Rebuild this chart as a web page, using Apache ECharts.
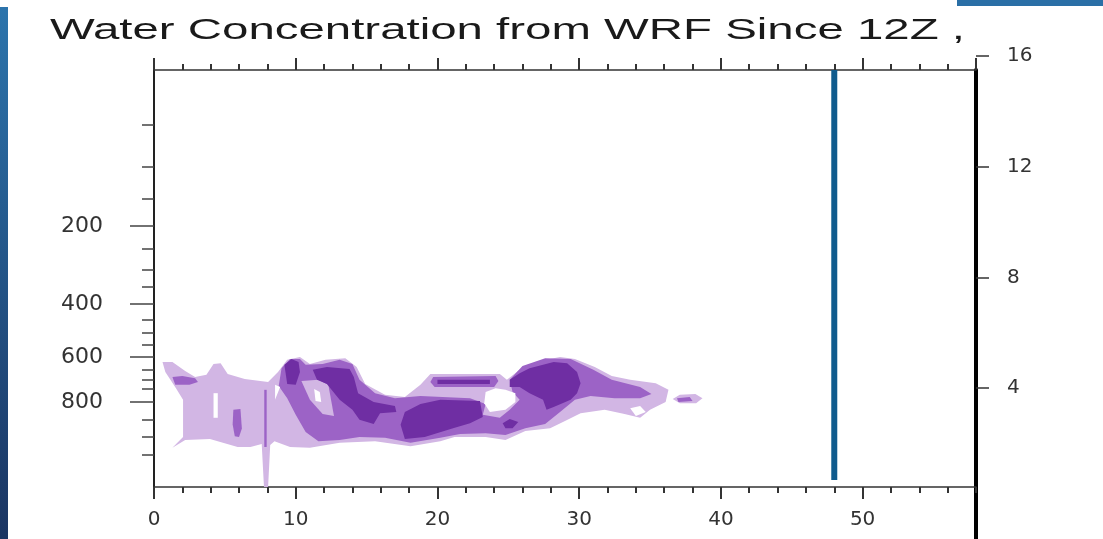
<!DOCTYPE html>
<html>
<head>
<meta charset="utf-8">
<script src="https://cdn.jsdelivr.net/npm/echarts@6/dist/echarts.min.js"></script>
<style>
  html, body { margin: 0; padding: 0; background: #fff; }
  #chart { width: 1103px; height: 539px; }
</style>
</head>
<body>
<div id="chart"></div>
<script>
// x: time axis units, y: model level (0 = bottom of plot, 100 = top)
const pressureLabels = [200, 400, 600, 800];
const pressureLevels = [62.6, 43.9, 31.2, 20.4];
const pressureTickLevels = [86.8, 76.7, 69.1, 62.6, 57.1, 52.0, 48.0, 43.9, 40.0, 36.9, 34.1,
  31.2, 28.1, 25.7, 23.5, 20.4, 16.1, 12.0, 7.7];
const heightTicks = [4, 8, 12, 16];

// filled contour areas, polygons of [x, level]
const level1Areas = [
  [[0.6, 30.0], [1.3, 30.0], [2.2, 27.8], [2.9, 26.4], [3.7, 26.9], [4.2, 29.5], [4.7, 29.7], [5.2, 27.1],
   [6.4, 25.9], [8.05, 25.2], [8.75, 27.6], [9.4, 30.5], [10.3, 31.2], [11.0, 29.5], [12.1, 30.5],
   [13.5, 30.9], [14.3, 28.8], [14.9, 24.7], [16.3, 22.1], [17.7, 21.6], [18.8, 24.5], [19.5, 27.1],
   [24.4, 27.1], [24.9, 25.7], [25.8, 28.1], [27.2, 30.2], [28.65, 31.2], [29.7, 30.7], [31.1, 28.8],
   [32.3, 26.6], [33.6, 25.7], [35.4, 24.9], [36.3, 23.3], [36.1, 20.4], [35.0, 18.5], [34.3, 16.6],
   [33.2, 17.5], [31.8, 18.5], [30.1, 17.7], [29.0, 15.8], [27.95, 14.1], [26.2, 13.4], [24.8, 11.3],
   [23.4, 12.0], [21.2, 12.0], [20.2, 11.0], [18.1, 9.8], [15.6, 11.0], [13.1, 10.6], [11.0, 9.4],
   [9.6, 9.6], [8.5, 11.0], [8.2, 10.1], [8.05, 0], [7.76, 0], [7.6, 10.3], [6.8, 9.6], [5.9, 9.6],
   [3.95, 11.5], [2.2, 11.3], [1.3, 9.4], [2.05, 12.0], [2.05, 20.9], [1.55, 23.7], [0.8, 27.6]],
  [[36.6, 21.1], [37.1, 22.1], [38.2, 22.3], [38.7, 21.3], [38.25, 20.1], [37.1, 20.1]]
];
const level2Areas = [
  [[1.3, 26.4], [2.0, 26.6], [2.9, 26.1], [3.1, 25.2], [2.5, 24.5], [1.5, 24.5]],
  [[7.78, 23.3], [7.95, 23.3], [7.95, 9.6], [7.78, 9.6]],
  [[5.6, 18.5], [6.1, 18.7], [6.2, 14.0], [6.0, 12.0], [5.7, 12.2], [5.55, 15.0]],
  [[19.7, 26.4], [24.1, 26.6], [24.3, 25.4], [24.0, 24.0], [19.8, 24.0], [19.5, 25.2]],
  [[8.8, 24.2], [9.0, 28.5], [9.6, 30.7], [10.3, 30.7], [10.7, 29.3], [11.9, 29.5], [13.1, 30.5],
   [14.0, 29.5], [14.5, 25.7], [15.6, 22.5], [17.0, 21.3], [18.8, 21.8], [22.3, 21.3], [23.4, 19.9],
   [23.2, 17.3], [24.4, 16.6], [25.1, 18.5], [25.8, 20.9], [25.3, 22.8], [25.1, 25.7], [26.0, 29.0],
   [27.6, 30.9], [29.4, 30.7], [31.0, 28.1], [32.3, 25.7], [34.3, 24.0], [35.1, 22.3], [34.3, 21.3],
   [32.5, 21.3], [30.8, 21.8], [29.7, 20.9], [28.65, 18.0], [27.6, 15.1], [26.2, 14.1], [24.8, 12.5],
   [23.4, 12.9], [21.6, 12.7], [20.2, 11.8], [18.1, 10.6], [16.3, 11.8], [14.5, 12.0], [13.1, 11.3],
   [11.6, 11.0], [10.7, 13.2], [10.0, 17.3], [9.4, 21.3]],
  [[36.9, 21.3], [37.8, 21.6], [38.0, 20.6], [37.0, 20.4]]
];
// lighter pockets inside the level 2 area
const level1Pockets = [
  [[10.4, 25.4], [11.6, 25.7], [12.3, 24.5], [12.7, 17.0], [11.9, 17.5], [11.0, 20.9]]
];
const level3Areas = [
  [[9.2, 29.3], [9.7, 30.7], [10.2, 30.0], [10.3, 27.6], [10.0, 24.5], [9.4, 24.7]],
  [[11.2, 28.1], [12.2, 28.8], [13.8, 28.3], [14.1, 26.4], [14.4, 22.5], [15.5, 20.4], [17.0, 19.4],
   [17.1, 18.0], [15.95, 17.7], [15.5, 15.1], [14.5, 16.1], [14.0, 18.5], [13.1, 20.9], [12.2, 24.7],
   [11.5, 25.7]],
  [[17.4, 14.9], [17.7, 18.0], [18.8, 19.9], [20.2, 20.9], [23.0, 20.6], [23.2, 16.8], [22.3, 15.3],
   [21.1, 14.1], [19.1, 12.0], [17.7, 11.5]],
  [[20.0, 25.7], [23.7, 25.7], [23.7, 24.7], [20.0, 24.7]],
  [[25.1, 25.7], [25.8, 27.3], [26.5, 28.5], [28.2, 30.0], [29.15, 29.7], [29.85, 27.6], [30.1, 24.9],
   [29.85, 22.5], [29.4, 20.9], [28.2, 19.2], [27.7, 18.5], [27.45, 20.9], [26.5, 22.5], [25.8, 24.0],
   [25.1, 24.0]],
  [[24.6, 15.3], [25.1, 16.3], [25.7, 15.6], [25.3, 14.1], [24.8, 14.1]]
];
// gaps below the lowest contour
const gapAreas = [
  [[8.54, 24.5], [8.9, 24.0], [8.54, 20.9]],
  [[11.3, 23.5], [11.7, 22.8], [11.8, 20.4], [11.4, 20.6]],
  [[4.2, 22.5], [4.5, 22.5], [4.5, 16.6], [4.2, 16.6]],
  [[23.4, 22.8], [24.1, 23.7], [24.8, 23.3], [25.5, 22.5], [25.5, 20.4], [24.8, 18.5], [23.7, 18.0], [23.3, 20.1]],
  [[33.6, 18.9], [34.3, 19.4], [34.7, 18.0], [34.0, 17.0]]
];
const markerX = 48;
const markerLevels = [1.7, 100];

const labelFont = 'DejaVu Sans';

function areaSeries(name, areas, color) {
  return {
    name: name,
    type: 'custom',
    coordinateSystem: 'cartesian2d',
    xAxisIndex: 0,
    yAxisIndex: 0,
    silent: true,
    data: areas.map((a, i) => [i]),
    renderItem: function (params, api) {
      return {
        type: 'polygon',
        shape: { points: areas[params.dataIndex].map(p => api.coord(p)) },
        style: { fill: color }
      };
    }
  };
}

const chart = echarts.init(document.getElementById('chart'));

const tickStyle = { color: '#333', width: 2 };

chart.setOption({
  backgroundColor: '#fff',
  animation: false,
  graphic: [
    {
      type: 'rect', x: 0, y: 7, shape: { width: 8, height: 532 },
      style: { fill: new echarts.graphic.LinearGradient(0, 0, 0, 1, [
        { offset: 0, color: '#2c74ac' }, { offset: 1, color: '#1b3562' }]) }
    },
    { type: 'rect', x: 957, y: 0, shape: { width: 146, height: 6 }, style: { fill: '#2a6fa6' } },
    {
      type: 'text', x: 50, y: 31, scaleX: 1.58,
      style: {
        text: 'Water Concentration from WRF Since 12Z ,',
        fontSize: 30, fontFamily: 'Liberation Sans', fill: '#1a1a1a',
        verticalAlign: 'middle', textVerticalAlign: 'middle'
      }
    }
  ],
  grid: [
    { left: 154, right: 127, top: 70, bottom: 52 },
    { left: 154, right: 127, top: 42, bottom: 40 },
    { left: 154, right: 127, top: 70, bottom: 0 }
  ],
  xAxis: [
    { gridIndex: 0, type: 'value', position: 'bottom', min: 0, max: 58, interval: 2,
      axisLine: { onZero: false, lineStyle: { color: '#333', width: 1.5 } },
      axisTick: { length: 6, lineStyle: tickStyle },
      axisLabel: { show: false }, splitLine: { show: false } },
    { gridIndex: 0, type: 'value', position: 'bottom', min: 0, max: 58, interval: 10,
      axisLine: { show: false, onZero: false },
      axisTick: { length: 12, lineStyle: tickStyle },
      axisLabel: { margin: 23, fontSize: 20, fontFamily: labelFont, color: '#333', showMaxLabel: false },
      splitLine: { show: false } },
    { gridIndex: 0, type: 'value', position: 'top', min: 0, max: 58, interval: 2,
      axisLine: { onZero: false, lineStyle: { color: '#333', width: 1.5 } },
      axisTick: { length: 6, lineStyle: tickStyle },
      axisLabel: { show: false }, splitLine: { show: false } },
    { gridIndex: 0, type: 'value', position: 'top', min: 0, max: 58, interval: 10,
      axisLine: { show: false, onZero: false },
      axisTick: { length: 12, lineStyle: tickStyle },
      axisLabel: { show: false }, splitLine: { show: false } },
    { gridIndex: 1, type: 'value', min: 0, max: 58, show: false },
    { gridIndex: 2, type: 'value', min: 0, max: 58, show: false }
  ],
  yAxis: [
    { gridIndex: 0, type: 'value', position: 'left', min: 0, max: 100,
      axisLine: { show: true, onZero: false, lineStyle: { color: '#222', width: 2 } },
      axisTick: { show: true, customValues: pressureTickLevels, length: 12, lineStyle: { color: '#444', width: 1.5 } },
      axisLabel: {
        customValues: pressureLevels, margin: 51, fontSize: 22, fontFamily: labelFont, color: '#333',
        formatter: v => String(pressureLabels[pressureLevels.indexOf(v)])
      },
      splitLine: { show: false } },
    { gridIndex: 0, type: 'value', position: 'left', min: 0, max: 100,
      axisLine: { show: false, onZero: false },
      axisTick: { show: true, customValues: pressureLevels, length: 24, lineStyle: { color: '#444', width: 1.5 } },
      axisLabel: { show: false }, splitLine: { show: false } },
    { gridIndex: 1, type: 'value', position: 'right', min: 0, max: 16.5,
      axisLine: { show: false, onZero: false },
      axisTick: { show: true, customValues: heightTicks, length: 13, lineStyle: { color: '#333', width: 1.5 } },
      axisLabel: { customValues: heightTicks, margin: 31, fontSize: 20, fontFamily: labelFont, color: '#333' },
      splitLine: { show: false } },
    { gridIndex: 2, type: 'value', position: 'right', min: 0, max: 1,
      axisLine: { show: true, onZero: false, lineStyle: { color: '#000', width: 4 } },
      axisTick: { show: false }, axisLabel: { show: false }, splitLine: { show: false } }
  ],
  series: [
    areaSeries('level 1', level1Areas, '#d2b6e4'),
    areaSeries('level 2', level2Areas, '#9c63c6'),
    areaSeries('level 1 pockets', level1Pockets, '#d2b6e4'),
    areaSeries('level 3', level3Areas, '#6f2ea3'),
    areaSeries('gaps', gapAreas, '#ffffff'),
    {
      name: 'marker', type: 'line', xAxisIndex: 0, yAxisIndex: 0,
      symbol: 'none', silent: true,
      lineStyle: { color: '#0f5b8d', width: 6 },
      data: markerLevels.map(l => [markerX, l])
    }
  ]
});
</script>
</body>
</html>
